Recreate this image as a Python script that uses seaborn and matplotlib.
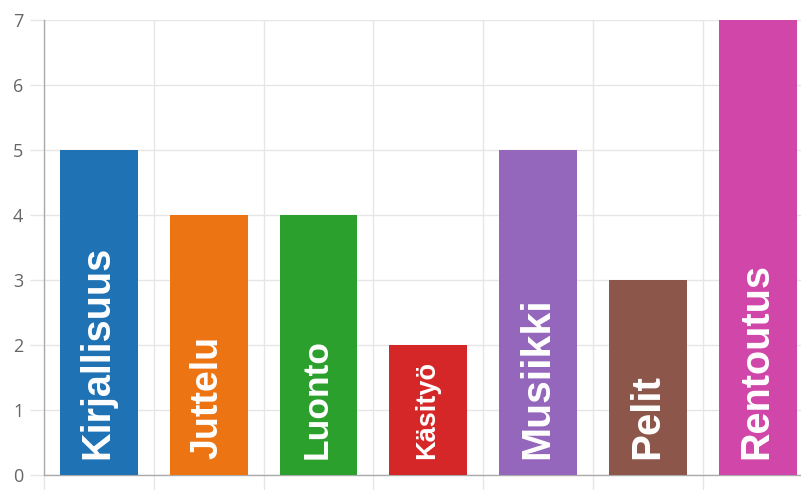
import numpy as np
import pandas as pd
import matplotlib
matplotlib.use("Agg")
import matplotlib.pyplot as plt
import seaborn as sns

categories = ["Kirjallisuus", "Juttelu", "Luonto", "Käsityö", "Musiikki", "Pelit", "Rentoutus"]
values = [5, 4, 4, 2, 5, 3, 7]
y_ticks = [0, 1, 2, 3, 4, 5, 6, 7]

colors = ["#1f72b4", "#ec7412", "#2ca02c", "#d62728", "#9467bd", "#8c564b", "#d146a9"]
label_sizes = [28.5, 27, 25.5, 19.5, 29.5, 29, 28.5]

sns.set_theme(style="white")
plt.rcParams["font.family"] = ["Open Sans", "DejaVu Sans"]

fig = plt.figure(figsize=(8.01, 4.90), dpi=100)
W, H = 801, 490
left_px, right_px, top_px, bottom_px = 44, 812.6, 20, 475
ax = fig.add_axes([left_px / W, (H - bottom_px) / H,
                   (right_px - left_px) / W, (bottom_px - top_px) / H])

df = pd.DataFrame({"cat": categories, "val": values})
sns.barplot(data=df, x="cat", y="val", hue="cat", palette=colors,
            width=0.71, saturation=1, legend=False, ax=ax, zorder=3,
            linewidth=0, edgecolor="none")

ax.set_xlim(-0.5, len(categories) - 0.5)
ax.set_ylim(0, max(y_ticks))
ax.set_yticks(y_ticks)
ax.set_yticklabels([str(t) for t in y_ticks], color="#666666", fontsize=13)
ax.set_xticks(np.arange(-0.5, len(categories), 1.0))
ax.set_xticklabels([])
ax.set_xlabel("")
ax.set_ylabel("")

ax.grid(True, color="#e6e6e6", linewidth=1, zorder=0)
ax.set_axisbelow(True)
ax.tick_params(axis="y", length=10, width=1, color="#e6e6e6", pad=5, left=True)
ax.tick_params(axis="x", length=11, width=1, color="#e6e6e6", bottom=True)
ax.get_xticklines()[0].set_color("#aaaaaa")
ax.get_yticklines()[0].set_color("#aaaaaa")

for s in ["top", "right"]:
    ax.spines[s].set_visible(False)
for s in ["left", "bottom"]:
    ax.spines[s].set_color("#aaaaaa")
    ax.spines[s].set_linewidth(1)

for i, (c, v) in enumerate(zip(categories, values)):
    ax.text(i - 0.01, 0.25, c, rotation=90, rotation_mode="anchor",
            ha="left", va="center", color="white", fontweight="bold",
            fontsize=label_sizes[i], family=["Liberation Sans", "DejaVu Sans"],
            zorder=4)

fig.savefig("out.png", dpi=100)
